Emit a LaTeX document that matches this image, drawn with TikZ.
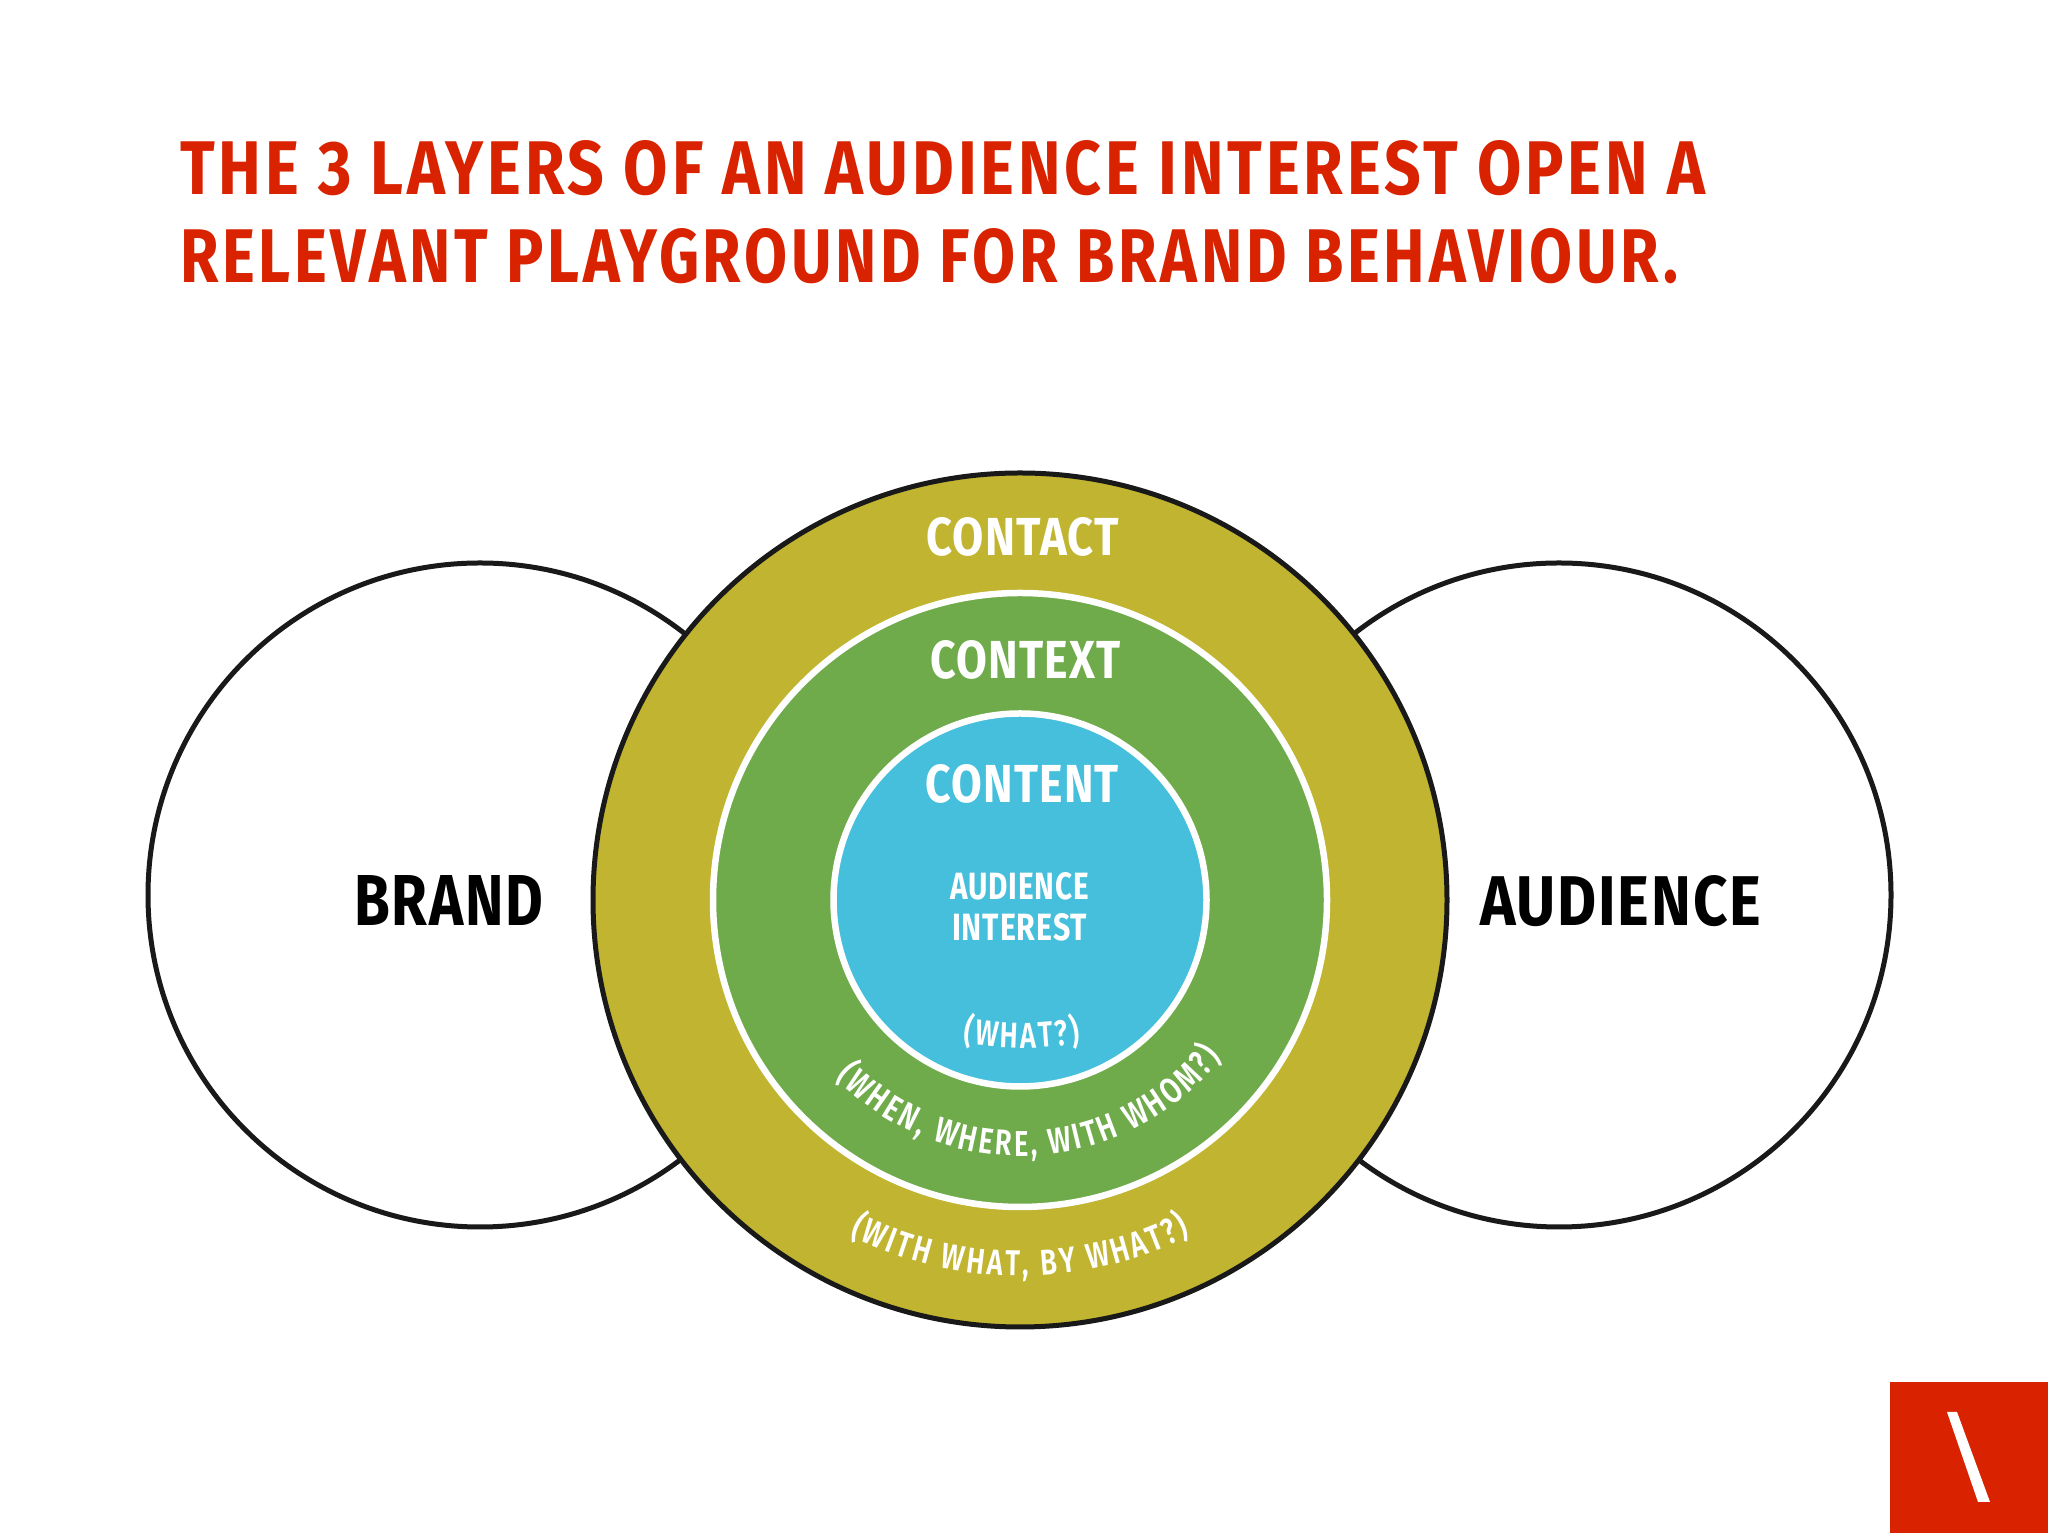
\documentclass[tikz,border=0pt]{standalone}
\usepackage{graphicx}
\usepackage{fontspec}
\setmainfont{Fira Sans}
\newfontfamily\condf[FakeStretch=0.76]{Fira Sans SemiBold}
\usetikzlibrary{decorations.text}
\definecolor{brandred}{HTML}{D92200}
\definecolor{olive}{HTML}{C1B431}
\definecolor{leaf}{HTML}{6FAA4B}
\definecolor{sky}{HTML}{45BFDB}
\newcommand{\fitted}[3]{\resizebox{#1pt}{#2pt}{\bfseries\fontsize{60}{60}\selectfont\addfontfeature{LetterSpace=3}#3}}
\newcommand{\fittedwide}[3]{\resizebox{#1pt}{#2pt}{\bfseries\fontsize{60}{60}\selectfont\addfontfeature{LetterSpace=6}#3}}
\newcommand{\curvefont}{\condf\fontsize{36}{36}\selectfont\color{white}}
\tikzset{
  x=1pt,y=1pt,
  ring/.style={circle,inner sep=0pt,outer sep=0pt,minimum size=#1},
  side/.style={ring=#1,draw=black!90,fill=white,line width=5pt},
  label/.style={anchor=base west,inner sep=0pt,outer sep=0pt},
  curved/.style={decorate,decoration={text along path,text format delimiters={|}{|},text align={fit to path},text={#1}}}
}
\begin{document}
\begin{tikzpicture}
\useasboundingbox (0,0) rectangle (2048,1533);
\fill[white] (0,0) rectangle (2048,1533);
% title
\node[label,text=brandred] (t1) at (180,1338) {\fittedwide{1525}{54}{THE 3 LAYERS OF AN AUDIENCE INTEREST OPEN A}};
\node[label,text=brandred] (t2) at (180,1250) {\fittedwide{1498}{54}{RELEVANT PLAYGROUND FOR BRAND BEHAVIOUR.}};
% side circles
\node[side=664pt] (brandc) at (480,638) {};
\node[side=664pt] (audc) at (1559,638) {};
% concentric circles
\coordinate (c) at (1020,633);
\node[ring=854pt,draw=black!90,fill=olive,line width=5pt] (contactc) at (c) {};
\node[ring=614pt,draw=white,fill=leaf,line width=6.5pt] (contextc) at (c) {};
\node[ring=373pt,draw=white,fill=sky,line width=6.5pt] (contentc) at (c) {};
% labels
\node[label] (brand) at (354,607) {\fitted{189}{50}{BRAND}};
\node[label] (audience) at (1480,607) {\fitted{281}{50}{AUDIENCE}};
\node[label,text=white] (contact) at (926,977) {\fitted{193}{38}{CONTACT}};
\node[label,text=white] (context) at (930,854) {\fitted{191}{38}{CONTEXT}};
\node[label,text=white] (content) at (925,730) {\fitted{194}{38}{CONTENT}};
\node[label,text=white] (ai1) at (950,633) {\fitted{139}{27}{AUDIENCE}};
\node[label,text=white] (ai2) at (952,592) {\fitted{135}{27}{INTEREST}};
% curved labels
\path[curved={|\curvefont|(WHEN, WHERE, WITH WHOM?)}] ([shift={(224:256)}]c) arc[start angle=224,end angle=322,radius=256];
\path[curved={|\curvefont|(WITH WHAT, BY WHAT?)}] ([shift={(243:376)}]c) arc[start angle=243,end angle=297,radius=376];
\coordinate (w) at (1022,810);
\path[curved={|\curvefont|(WHAT?)}] ([shift={(259.5:325)}]w) arc[start angle=259.5,end angle=280.5,radius=325];
% logo
\fill[brandred] (1890,0) rectangle (2048,151);
\fill[white] (1947,121) -- (1957,121) -- (1990,31) -- (1978,31) -- cycle;
\end{tikzpicture}
\end{document}
